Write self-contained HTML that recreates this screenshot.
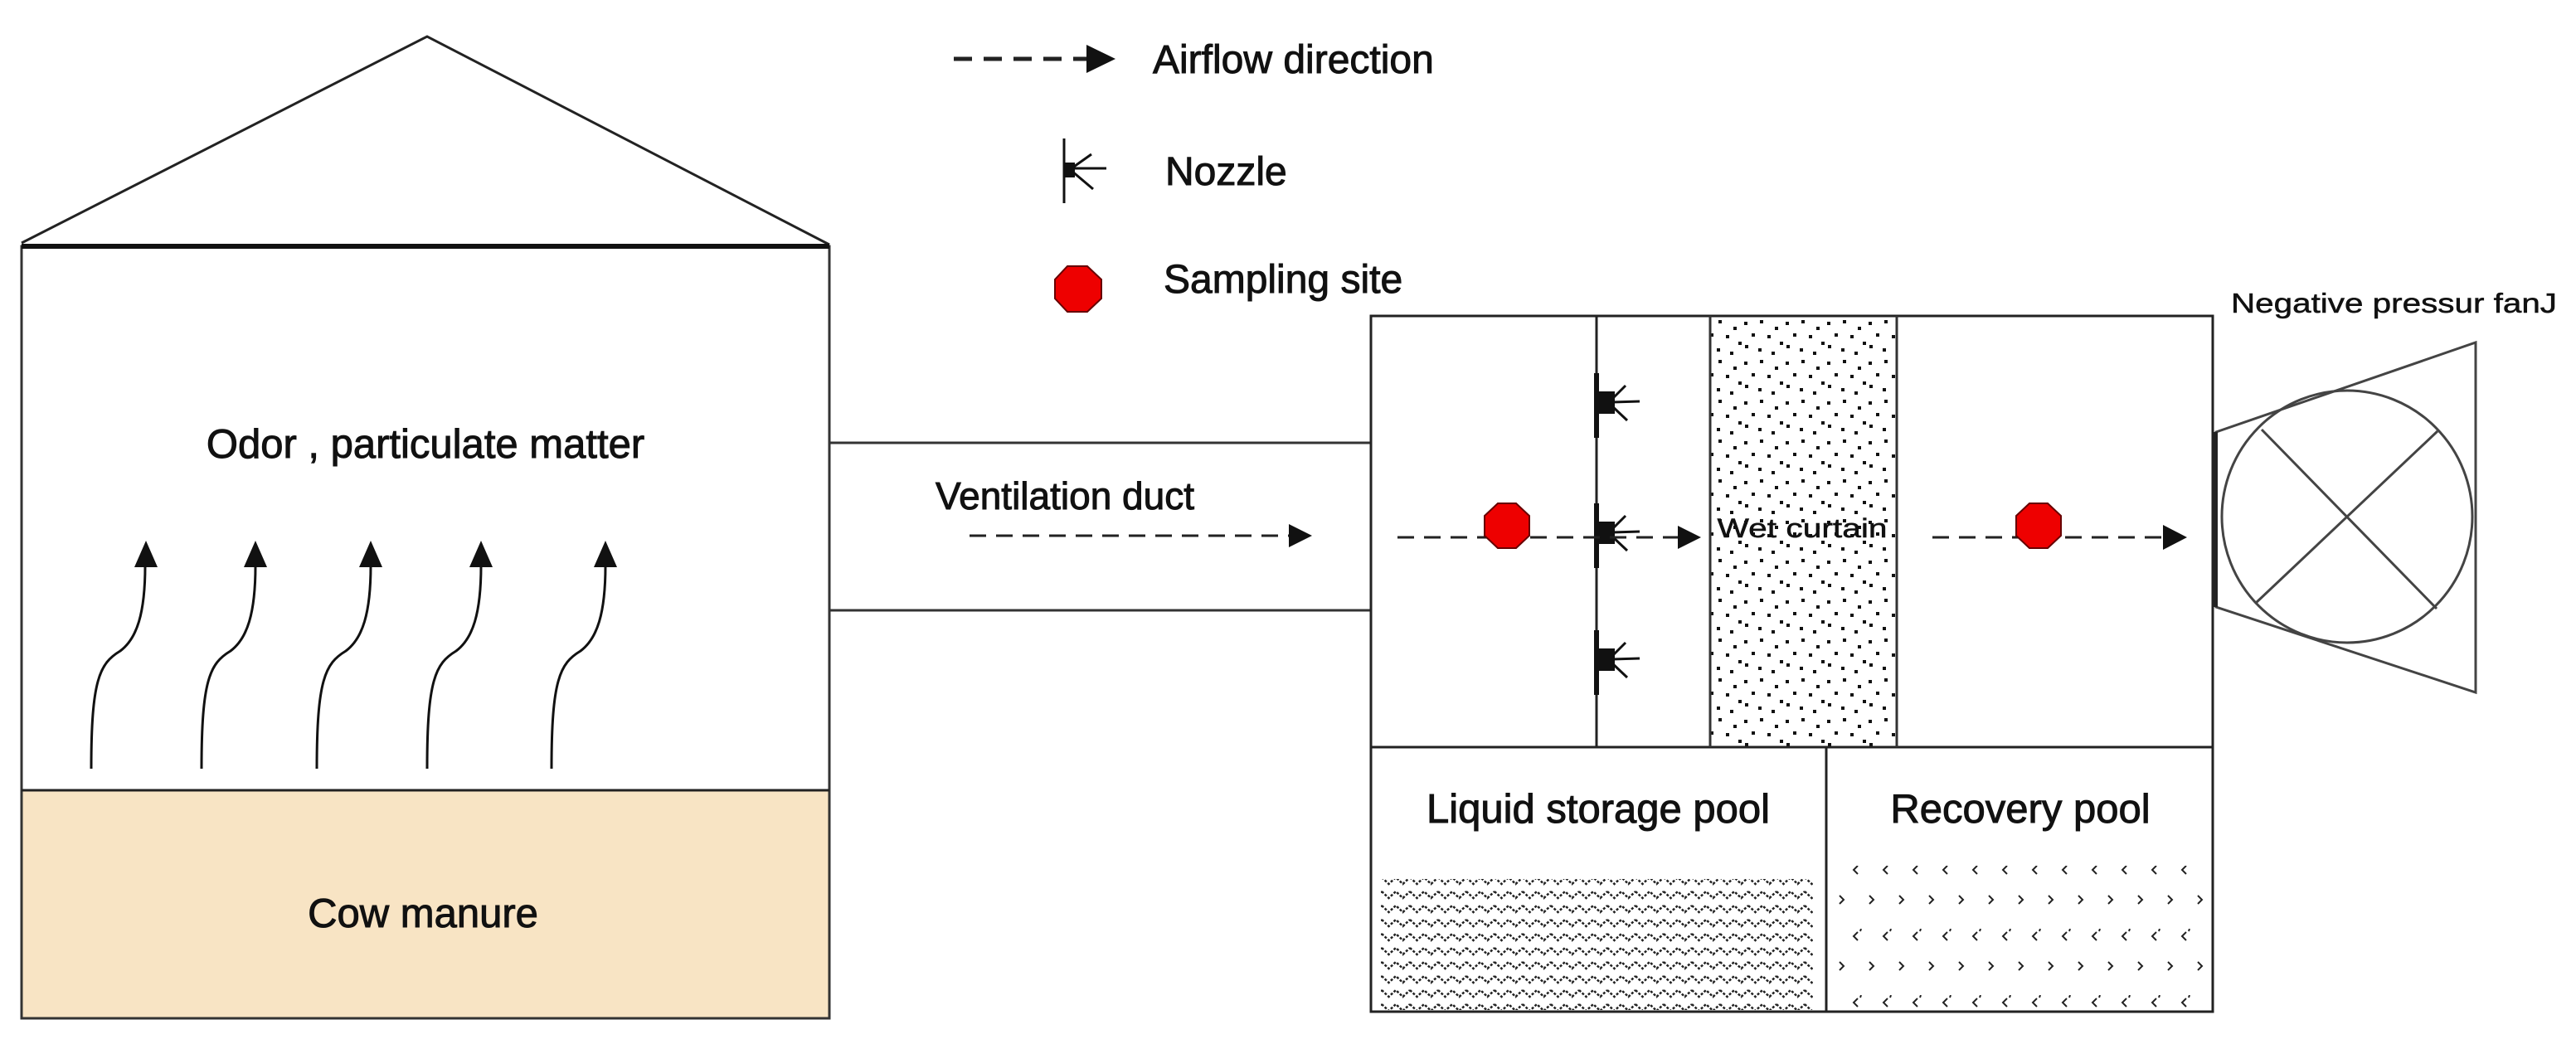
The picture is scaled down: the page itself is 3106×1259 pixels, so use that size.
<!DOCTYPE html>
<html><head><meta charset="utf-8"><style>
html,body{margin:0;padding:0;background:#fff;}
svg{display:block;}
text{font-family:"Liberation Sans",sans-serif;fill:#111;stroke:#111;stroke-width:1;}
</style></head><body>
<svg width="3106" height="1259" viewBox="0 0 3106 1259" xmlns="http://www.w3.org/2000/svg">
<defs>
<pattern id="dots" width="50" height="48" patternUnits="userSpaceOnUse">
<rect x="3" y="4" width="4" height="4" fill="#111"/><rect x="22" y="2" width="4" height="4" fill="#111"/><rect x="40" y="10" width="4" height="4" fill="#111"/>
<rect x="12" y="18" width="4" height="4" fill="#111"/><rect x="31" y="20" width="4" height="4" fill="#111"/><rect x="46" y="28" width="4" height="4" fill="#111"/>
<rect x="4" y="32" width="4" height="4" fill="#111"/><rect x="20" y="36" width="4" height="4" fill="#111"/><rect x="36" y="40" width="4" height="4" fill="#111"/>
</pattern>
<pattern id="wave" width="34" height="17" patternUnits="userSpaceOnUse">
<path d="M0,4 L8.5,12 L17,4 L25.5,12 L34,4" fill="none" stroke="#222" stroke-width="2.5" stroke-dasharray="3,2"/>
</pattern>
<pattern id="chev" width="36" height="80" patternUnits="userSpaceOnUse">
<path d="M8,4 L3,9 L8,14 M12,0 L11,3" fill="none" stroke="#222" stroke-width="2"/>
<path d="M22,40 L27,45 L22,50" fill="none" stroke="#222" stroke-width="2"/>
</pattern>
</defs>

<polyline points="26,293 515,44 1000,295" fill="none" stroke="#222" stroke-width="3"/>
<rect x="26" y="953" width="974" height="275" fill="#f8e4c4"/>
<rect x="26" y="297" width="974" height="931" fill="none" stroke="#333" stroke-width="3"/>
<line x1="26" y1="297" x2="1000" y2="297" stroke="#111" stroke-width="6"/>
<line x1="26" y1="953" x2="1000" y2="953" stroke="#222" stroke-width="3"/>
<text x="513" y="552" font-size="49" text-anchor="middle">Odor , particulate matter</text>
<text x="510" y="1118" font-size="49" text-anchor="middle">Cow manure</text>

<g fill="none" stroke="#111" stroke-width="3">
<path d="M110,927 C110,820 120,800 145,785 C165,770 175,740 175,682"/>
<path d="M243,927 C243,820 253,800 278,785 C298,770 308,740 308,682"/>
<path d="M382,927 C382,820 392,800 417,785 C437,770 447,740 447,682"/>
<path d="M515,927 C515,820 525,800 550,785 C570,770 580,740 580,682"/>
<path d="M665,927 C665,820 675,800 700,785 C720,770 730,740 730,682"/>
</g>
<g fill="#111">
<polygon points="162,684 176,652 190,684"/>
<polygon points="294,684 308,652 322,684"/>
<polygon points="433,684 447,652 461,684"/>
<polygon points="566,684 580,652 594,684"/>
<polygon points="716,684 730,652 744,684"/>
</g>

<line x1="1000" y1="534" x2="1653" y2="534" stroke="#333" stroke-width="3"/>
<line x1="1000" y1="736" x2="1653" y2="736" stroke="#333" stroke-width="3"/>
<text x="1128" y="614" font-size="46">Ventilation duct</text>
<line x1="1169" y1="646" x2="1556" y2="646" stroke="#222" stroke-width="3" stroke-dasharray="20,12"/>
<polygon points="1554,632 1582,646 1554,660" fill="#111"/>

<line x1="1150" y1="71" x2="1312" y2="71" stroke="#222" stroke-width="5" stroke-dasharray="22,14"/>
<polygon points="1310,54 1345,71 1310,88" fill="#111"/>
<text x="1390" y="88" font-size="48">Airflow direction</text>
<line x1="1283" y1="167" x2="1283" y2="245" stroke="#111" stroke-width="3"/>
<rect x="1284" y="196" width="12" height="18" fill="#111"/>
<g stroke="#111" stroke-width="3"><line x1="1292" y1="203" x2="1334" y2="203"/><line x1="1292" y1="203" x2="1316" y2="186"/><line x1="1292" y1="206" x2="1318" y2="228"/></g>
<text x="1405" y="223" font-size="48">Nozzle</text>
<polygon points="1287,321 1311,321 1328,337 1328,360 1311,376 1287,376 1272,360 1272,337" fill="#e00" stroke="#600" stroke-width="2"/>
<text x="1403" y="353" font-size="48">Sampling site</text>

<rect x="2062" y="381" width="225" height="520" fill="url(#dots)"/>
<rect x="1665" y="1060" width="521" height="158" fill="url(#wave)"/>
<rect x="2215" y="1044" width="442" height="174" fill="url(#chev)"/>
<rect x="1653" y="381" width="1015" height="839" fill="none" stroke="#222" stroke-width="3"/>
<line x1="1653" y1="901" x2="2668" y2="901" stroke="#222" stroke-width="3"/>
<line x1="1925" y1="381" x2="1925" y2="901" stroke="#222" stroke-width="3"/>
<line x1="2062" y1="381" x2="2062" y2="901" stroke="#333" stroke-width="3"/>
<line x1="2287" y1="381" x2="2287" y2="901" stroke="#333" stroke-width="3"/>
<line x1="2202" y1="901" x2="2202" y2="1220" stroke="#222" stroke-width="3"/>

<g>
<g>
<rect x="1922" y="450" width="6" height="78" fill="#111"/><rect x="1927" y="472" width="20" height="27" fill="#111"/>
<g stroke="#111" stroke-width="3"><line x1="1944" y1="485" x2="1977" y2="484"/><line x1="1944" y1="481" x2="1960" y2="465"/><line x1="1944" y1="490" x2="1962" y2="507"/></g>
</g>
<g transform="translate(0,157)">
<rect x="1922" y="450" width="6" height="78" fill="#111"/><rect x="1927" y="472" width="20" height="27" fill="#111"/>
<g stroke="#111" stroke-width="3"><line x1="1944" y1="485" x2="1977" y2="484"/><line x1="1944" y1="481" x2="1960" y2="465"/><line x1="1944" y1="490" x2="1962" y2="507"/></g>
</g>
<g transform="translate(0,310)">
<rect x="1922" y="450" width="6" height="78" fill="#111"/><rect x="1927" y="472" width="20" height="27" fill="#111"/>
<g stroke="#111" stroke-width="3"><line x1="1944" y1="485" x2="1977" y2="484"/><line x1="1944" y1="481" x2="1960" y2="465"/><line x1="1944" y1="490" x2="1962" y2="507"/></g>
</g>
</g>

<line x1="1685" y1="648" x2="2025" y2="648" stroke="#222" stroke-width="3" stroke-dasharray="20,12"/>
<polygon points="2023,634 2051,648 2023,662" fill="#111"/>
<line x1="2330" y1="648" x2="2610" y2="648" stroke="#222" stroke-width="3" stroke-dasharray="20,12"/>
<polygon points="2608,633 2637,648 2608,663" fill="#111"/>
<polygon points="1806,607 1828,607 1844,622 1844,646 1828,661 1806,661 1790,646 1790,622" fill="#e00" stroke="#600" stroke-width="2"/>
<polygon points="2447,607 2469,607 2485,622 2485,646 2469,661 2447,661 2431,646 2431,622" fill="#e00" stroke="#600" stroke-width="2"/>
<text x="2173" y="648" font-size="32" text-anchor="middle" textLength="205" lengthAdjust="spacingAndGlyphs" style="stroke-width:0.5">Wet curtain</text>

<text x="1927" y="992" font-size="49" text-anchor="middle">Liquid storage pool</text>
<text x="2436" y="992" font-size="49" text-anchor="middle">Recovery pool</text>

<polygon points="2672,521 2985,413 2985,835 2672,732" fill="none" stroke="#444" stroke-width="3"/>
<line x1="2671" y1="521" x2="2671" y2="732" stroke="#222" stroke-width="6"/>
<ellipse cx="2830" cy="623" rx="151" ry="152" fill="none" stroke="#444" stroke-width="3"/>
<line x1="2727" y1="518" x2="2938" y2="734" stroke="#444" stroke-width="3"/>
<line x1="2939" y1="520" x2="2719" y2="728" stroke="#444" stroke-width="3"/>
<text x="2690" y="377" font-size="33" textLength="393" lengthAdjust="spacingAndGlyphs" style="stroke-width:0.5">Negative pressur fanJ</text>
</svg>
</body></html>
